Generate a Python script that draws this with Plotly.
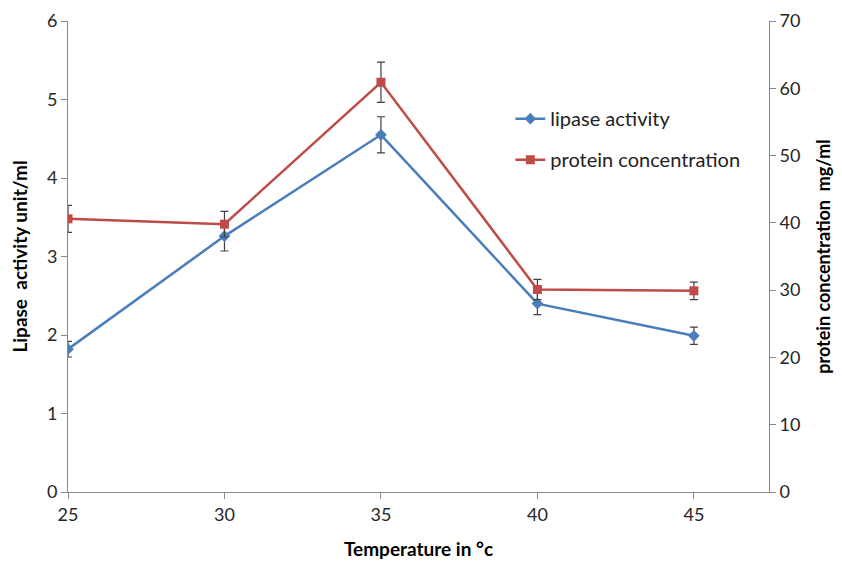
import plotly.graph_objects as go

temperature = [25, 30, 35, 40, 45]
lipase_activity = [1.82, 3.26, 4.55, 2.40, 1.99]
lipase_err = [0.10, 0.19, 0.23, 0.14, 0.11]
protein_conc = [40.6, 39.8, 60.9, 30.1, 29.9]
protein_err = [2.0, 1.9, 3.0, 1.5, 1.3]

blue = "#4A7EBB"
red = "#BE4B48"
font = "Lato"

fig = go.Figure()
fig.add_trace(go.Scatter(
    x=temperature, y=lipase_activity, name="lipase activity",
    mode="lines+markers", legendgroup="a",
    line=dict(color=blue, width=2.5),
    marker=dict(symbol="diamond", size=9, color=blue),
    error_y=dict(type="data", array=lipase_err, color="#404040", thickness=1.2, width=4),
))
fig.add_trace(go.Scatter(
    x=temperature, y=protein_conc, name="protein concentration",
    mode="lines+markers", yaxis="y2", legendgroup="b",
    line=dict(color=red, width=2.5),
    marker=dict(symbol="square", size=9, color=red),
    error_y=dict(type="data", array=protein_err, color="#404040", thickness=1.2, width=4),
))

axis_common = dict(showgrid=False, zeroline=False, showline=True, linecolor="#888888",
                   linewidth=1, ticks="outside", tickcolor="#888888", ticklen=6,
                   automargin=False,
                   tickfont=dict(family=font, size=18, color="#262626"))

# page has an 8px body margin, so the figure is sized to fit the 842x563 window
fig.update_layout(
    width=834, height=555,
    margin=dict(l=60, r=73, t=13, b=71),
    paper_bgcolor="white", plot_bgcolor="white",
    font=dict(family=font, color="#000000"),
    showlegend=True,
    legend=dict(x=0.631, y=0.834, xanchor="left", yanchor="top",
                font=dict(family=font, size=20, color="#222222"),
                bgcolor="rgba(0,0,0,0)", tracegroupgap=12, itemwidth=30),
    xaxis=dict(range=[25, 47.4], tickvals=temperature, title=dict(text="<b>Temperature in °c</b>",
               font=dict(family=font, size=19), standoff=19), **axis_common),
    yaxis=dict(range=[0, 6], dtick=1, title=dict(text="<b>Lipase  activity unit/ml</b>",
               font=dict(family=font, size=19), standoff=17), **axis_common),
    yaxis2=dict(range=[0, 70], dtick=10, overlaying="y", side="right",
                title=dict(text="<b>protein concentration  mg/ml</b>",
                           font=dict(family=font, size=18), standoff=17), **axis_common),
)

fig.write_html("out.html")
